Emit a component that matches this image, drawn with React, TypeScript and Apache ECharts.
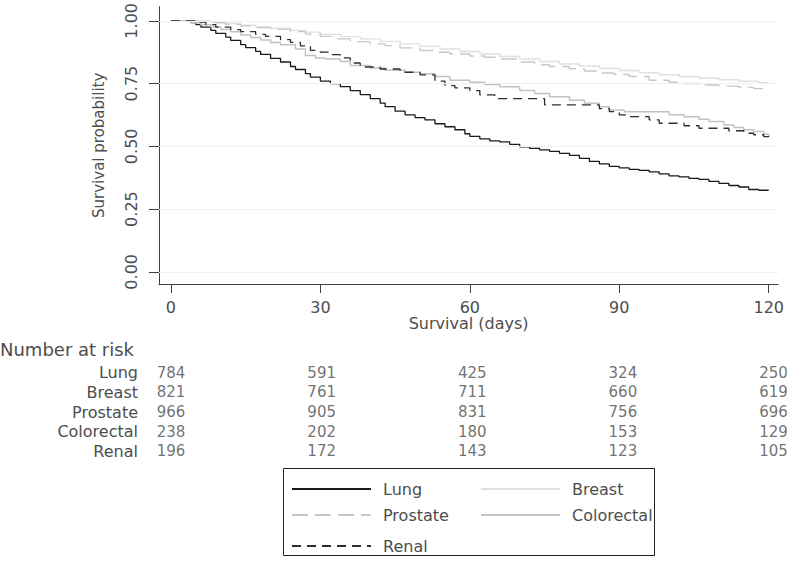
import React, { useEffect, useRef } from "react";
import * as echarts from "echarts";

const FONT = "DejaVu Sans";
const TXT = "#4d4d4d";
const AXIS = "#404040";

const groups = ["Lung", "Breast", "Prostate", "Colorectal", "Renal"];
const xTicks = [0, 30, 60, 90, 120];
const yTicks = [0, 0.25, 0.5, 0.75, 1];

const riskDays = [0, 30, 60, 90, 120];
const lungRisk = [784, 591, 425, 324, 250];
const breastRisk = [821, 761, 711, 660, 619];
const prostateRisk = [966, 905, 831, 756, 696];
const colorectalRisk = [238, 202, 180, 153, 129];
const renalRisk = [196, 172, 143, 123, 105];

const lungCurve = [
  [0, 1.0], [4, 0.993], [5, 0.985], [6, 0.975], [8, 0.962], [9, 0.95], [11, 0.935], [12, 0.922],
  [14, 0.905], [15, 0.893], [17, 0.878], [18, 0.866], [20, 0.85], [22, 0.836], [24, 0.818],
  [25, 0.806], [27, 0.79], [28, 0.776], [30, 0.76], [32, 0.75], [34, 0.738], [36, 0.722],
  [38, 0.706], [40, 0.69], [42, 0.672], [43, 0.658], [45, 0.64], [47, 0.625], [49, 0.614],
  [51, 0.605], [53, 0.59], [55, 0.578], [57, 0.566], [59, 0.55], [60, 0.54], [62, 0.53],
  [64, 0.522], [66, 0.518], [68, 0.508], [70, 0.498], [72, 0.492], [74, 0.486], [76, 0.48],
  [78, 0.472], [80, 0.464], [82, 0.452], [84, 0.44], [86, 0.43], [88, 0.42], [90, 0.414],
  [92, 0.408], [94, 0.404], [96, 0.398], [98, 0.39], [100, 0.382], [102, 0.378], [104, 0.372],
  [106, 0.368], [108, 0.36], [110, 0.352], [112, 0.344], [114, 0.338], [116, 0.328],
  [118, 0.325], [120, 0.325],
];

const breastCurve = [
  [0, 1.0], [5, 0.998], [8, 0.994], [11, 0.989], [14, 0.983], [17, 0.977], [20, 0.971],
  [24, 0.962], [27, 0.955], [30, 0.946], [34, 0.937], [38, 0.928], [42, 0.918], [46, 0.908],
  [50, 0.898], [54, 0.888], [58, 0.878], [62, 0.868], [66, 0.858], [70, 0.848], [74, 0.838],
  [78, 0.828], [82, 0.82], [86, 0.811], [90, 0.802], [94, 0.793], [98, 0.785], [102, 0.778],
  [106, 0.771], [110, 0.765], [114, 0.759], [118, 0.753], [120, 0.75],
];

const prostateCurve = [
  [0, 1.0], [5, 0.997], [8, 0.992], [11, 0.986], [14, 0.98], [17, 0.973], [20, 0.966],
  [24, 0.957], [27, 0.947], [30, 0.938], [33, 0.928], [36, 0.917], [40, 0.908], [43, 0.901],
  [46, 0.892], [50, 0.882], [53, 0.875], [56, 0.868], [60, 0.86], [63, 0.855], [66, 0.848],
  [70, 0.836], [73, 0.825], [76, 0.818], [80, 0.809], [83, 0.8], [86, 0.792], [89, 0.786],
  [92, 0.778], [96, 0.763], [100, 0.755], [103, 0.75], [107, 0.744], [110, 0.74], [114, 0.735],
  [117, 0.73], [119, 0.724], [120, 0.722],
];

const colorectalCurve = [
  [0, 1.0], [4, 0.992], [6, 0.984], [8, 0.975], [10, 0.965], [12, 0.956], [14, 0.943],
  [16, 0.934], [18, 0.924], [20, 0.914], [22, 0.905], [25, 0.888], [27, 0.862], [29, 0.852],
  [31, 0.848], [34, 0.838], [36, 0.822], [40, 0.812], [43, 0.803], [47, 0.795], [50, 0.789],
  [53, 0.778], [56, 0.763], [60, 0.755], [63, 0.746], [66, 0.737], [70, 0.722], [73, 0.71],
  [76, 0.697], [80, 0.684], [83, 0.672], [86, 0.658], [88, 0.645], [91, 0.638], [100, 0.626],
  [103, 0.618], [106, 0.608], [108, 0.599], [111, 0.585], [113, 0.575], [115, 0.566],
  [117, 0.559], [119, 0.548], [120, 0.539],
];

const renalCurve = [
  [0, 1.0], [5, 0.995], [7, 0.985], [9, 0.975], [12, 0.965], [14, 0.957], [17, 0.946],
  [19, 0.938], [22, 0.925], [24, 0.914], [26, 0.9], [28, 0.882], [30, 0.875], [32, 0.865],
  [34, 0.852], [36, 0.832], [38, 0.816], [42, 0.808], [46, 0.795], [50, 0.785], [53, 0.76],
  [55, 0.742], [57, 0.733], [60, 0.722], [62, 0.705], [65, 0.69], [75, 0.665], [86, 0.65],
  [88, 0.638], [90, 0.625], [92, 0.618], [96, 0.605], [98, 0.592], [103, 0.582], [106, 0.572],
  [112, 0.562], [115, 0.552], [117, 0.546], [119, 0.539], [120, 0.535],
];

const curves = [lungCurve, breastCurve, prostateCurve, colorectalCurve, renalCurve];
const risks = [lungRisk, breastRisk, prostateRisk, colorectalRisk, renalRisk];

const lineStyles: any[] = [
  { color: "#1a1a1a", width: 1.3, type: "solid" },
  { color: "#e0e0e0", width: 1.4, type: "solid" },
  { color: "#c8c8c8", width: 1.4, type: [16, 7] },
  { color: "#c2c2c2", width: 1.5, type: "solid" },
  { color: "#2e2e2e", width: 1.3, type: [9, 6] },
];

const legendPos = [
  { left: 291, top: 481 },
  { left: 480, top: 481 },
  { left: 291, top: 507 },
  { left: 480, top: 507 },
  { left: 291, top: 538 },
];

const X_MIN = -2.4;
const X_MAX = 121.9;

function buildOption(): any {
  const series: any[] = groups.map((g, i) => ({
    name: g,
    type: "line",
    xAxisIndex: 0,
    yAxisIndex: 0,
    step: "end",
    symbol: "none",
    showSymbol: false,
    data: curves[i],
    lineStyle: lineStyles[i],
    itemStyle: { color: lineStyles[i].color },
    z: 3,
    ...(i === 0
      ? {
          markLine: {
            silent: true,
            symbol: ["none", "none"],
            label: { show: false },
            animation: false,
            lineStyle: { color: "#efefef", type: "solid", width: 1 },
            data: yTicks.map((v) => ({ yAxis: v })),
          },
        }
      : {}),
  }));

  const riskData: any[] = [];
  groups.forEach((g, i) => {
    riskDays.forEach((d, j) => {
      riskData.push([d, g, risks[i][j]]);
    });
  });

  series.push({
    type: "scatter",
    xAxisIndex: 1,
    yAxisIndex: 1,
    symbolSize: 1,
    itemStyle: { color: "rgba(0,0,0,0)" },
    silent: true,
    data: riskData,
    label: {
      show: true,
      position: "inside",
      formatter: (p: any) => String(p.value[2]),
      fontFamily: FONT,
      fontSize: 15,
      color: TXT,
    },
  });

  return {
    animation: false,
    backgroundColor: "#ffffff",
    textStyle: { fontFamily: FONT },
    title: {
      text: "Number at risk",
      left: 0,
      top: 340,
      padding: 0,
      textStyle: { fontFamily: FONT, fontSize: 18, fontWeight: "normal", color: TXT },
    },
    legend: groups.map((g, i) => ({
      data: [g],
      left: legendPos[i].left,
      top: legendPos[i].top,
      padding: 0,
      itemWidth: 79,
      itemHeight: 14,
      selectedMode: false,
      itemStyle: { opacity: 0 },
      textStyle: { fontFamily: FONT, fontSize: 16, color: TXT, padding: [0, 0, 0, 7] },
    })),
    graphic: [
      {
        type: "rect",
        shape: { x: 283.5, y: 468.5, width: 371, height: 87 },
        style: { fill: "none", stroke: "#222", lineWidth: 1 },
        silent: true,
      },
    ],
    grid: [
      { left: 159, top: 4, width: 624, height: 280 },
      { left: 159, top: 363, width: 624, height: 98 },
    ],
    xAxis: [
      {
        type: "value",
        gridIndex: 0,
        min: X_MIN,
        max: X_MAX,
        axisLine: { show: true, onZero: false, lineStyle: { color: AXIS, width: 1 } },
        axisTick: { show: true, customValues: xTicks, length: 9, lineStyle: { color: AXIS } },
        axisLabel: { customValues: xTicks, margin: 15, fontFamily: FONT, fontSize: 16, color: TXT },
        splitLine: { show: false },
        name: "Survival (days)",
        nameLocation: "middle",
        nameGap: 29,
        nameTextStyle: { fontFamily: FONT, fontSize: 16, color: TXT },
      },
      {
        type: "value",
        gridIndex: 1,
        min: X_MIN,
        max: X_MAX,
        show: false,
      },
    ],
    yAxis: [
      {
        type: "value",
        gridIndex: 0,
        min: -0.0485,
        max: 1.0564,
        axisLine: { show: true, onZero: false, lineStyle: { color: AXIS, width: 1 } },
        axisTick: { show: true, customValues: yTicks, length: 10, lineStyle: { color: AXIS } },
        axisLabel: {
          customValues: yTicks,
          rotate: 90,
          margin: 20,
          fontFamily: FONT,
          fontSize: 16,
          color: TXT,
          formatter: (v: number) => v.toFixed(2),
        },
        splitLine: { show: false },
        name: "Survival probability",
        nameLocation: "middle",
        nameGap: 53,
        nameTextStyle: { fontFamily: FONT, fontSize: 15, color: TXT },
      },
      {
        type: "category",
        gridIndex: 1,
        data: groups,
        inverse: true,
        axisLine: { show: false },
        axisTick: { show: false },
        splitLine: { show: false },
        axisLabel: { interval: 0, margin: 21, fontFamily: FONT, fontSize: 16, color: TXT },
      },
    ],
    series,
  };
}

export default function App() {
  const ref = useRef<HTMLDivElement>(null);
  useEffect(() => {
    if (!ref.current) return;
    const chart = echarts.init(ref.current, null, { renderer: "svg" });
    chart.setOption(buildOption());
    return () => chart.dispose();
  }, []);
  return (
    <div
      ref={ref}
      style={{ position: "fixed", left: 0, top: 0, width: 787, height: 566, background: "#fff" }}
    />
  );
}
